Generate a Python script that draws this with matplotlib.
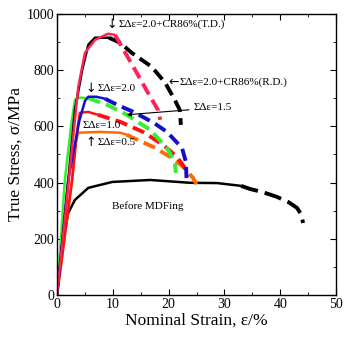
import matplotlib
matplotlib.use("Agg")
import matplotlib.pyplot as plt
from matplotlib.ticker import MultipleLocator

plt.rcParams['font.family'] = ['Liberation Serif', 'DejaVu Serif']
plt.rcParams['mathtext.fontset'] = 'stix'

# Before MDFing
before_x = [0, 0.2, 1.1, 2.0, 3.2, 5.6, 9.9, 16.7, 23.8, 28.7, 33.0]
before_y = [0, 53, 196, 292, 338, 381, 402, 409, 399, 398, 388]
before_dx = [33.0, 34.6, 37.0, 39.4, 41.5, 43.0, 43.8, 44.1]
before_dy = [388, 377, 365, 349, 330, 310, 285, 256]

# 0.5
o_x = [0, 2.7, 3.3, 3.8, 7.7, 11.3, 12.5]
o_y = [0, 409, 540, 577, 580, 577, 570]
o_dx = [12.5, 13.6, 17.2, 20.3, 22.6, 24.4, 25.3]
o_dy = [570, 559, 527, 491, 456, 416, 381]

# 1.0
r_x = [0, 2.7, 3.7, 4.1, 5.6, 7.3]
r_y = [0, 409, 600, 648, 651, 641]
r_dx = [7.3, 11.3, 15.4, 19.0, 21.5, 22.9, 23.3]
r_dy = [641, 616, 580, 534, 491, 452, 420]

# 1.5
g_x = [0, 1.4, 2.5, 3.2, 4.1, 5.6]
g_y = [0, 409, 600, 694, 702, 700]
g_dx = [5.6, 9.0, 12.5, 14.5, 16.7, 19.7, 21.1, 21.3]
g_dy = [700, 676, 641, 615, 587, 523, 473, 434]

# 2.0
b_x = [0, 2.0, 4.0, 5.0, 5.6, 7.0, 8.6]
b_y = [0, 409, 620, 690, 705, 705, 698]
b_dx = [8.6, 10.8, 13.6, 15.4, 17.5, 19.7, 22.4, 23.1, 23.2]
b_dy = [698, 676, 652, 633, 610, 580, 523, 473, 416]

# 2.0 + CR86% (R.D.)
k_x = [0, 1.5, 3.2, 4.5, 5.6, 6.8, 9.3]
k_y = [0, 300, 658, 800, 890, 915, 915]
k_dx = [9.3, 11.3, 13.4, 15.2, 17.0, 19.4, 21.1, 22.0, 22.2]
k_dy = [915, 897, 861, 836, 811, 754, 694, 658, 605]

# 2.0 + CR86% (T.D.)
t_x = [0, 1.5, 3.8, 5.0, 6.8, 9.1, 10.4]
t_y = [0, 290, 740, 861, 907, 929, 925]
t_dx = [10.4, 11.6, 14.0, 16.3, 18.1, 18.5]
t_dy = [925, 883, 800, 719, 658, 623]

fig = plt.figure(figsize=(3.5, 3.45), dpi=100)
ax = fig.add_axes([0.163, 0.145, 0.797, 0.815])

curvas = [
    (before_x, before_y, before_dx, before_dy, 'black', (4.5, 1.8)),
    (o_x, o_y, o_dx, o_dy, '#ff6a00', (3.2, 1.6)),
    (r_x, r_y, r_dx, r_dy, '#ff1010', (3.2, 1.6)),
    (g_x, g_y, g_dx, g_dy, '#33ee33', (3.2, 1.6)),
    (b_x, b_y, b_dx, b_dy, '#1010cc', (3.2, 1.6)),
    (k_x, k_y, k_dx, k_dy, 'black', (3.2, 1.6)),
    (t_x, t_y, t_dx, t_dy, '#ff2255', (3.2, 1.6)),
]
for x, y, dx, dy, c, d in curvas:
    ax.plot(x, y, color=c, lw=1.8, solid_capstyle='butt')
    ax.plot(dx, dy, color=c, lw=2.8, dashes=d)

fs = 8
flecha = dict(fontsize=9, family='DejaVu Sans', va='center', ha='center')
# flechas
ax.text(9.8, 962, '↓', **flecha)
ax.text(6.1, 733, '↓', **flecha)
ax.text(6.1, 541, '↑', **flecha)
ax.text(20.9, 758, '←', **flecha)

ax.text(11.0, 962, 'ΣΔε=2.0+CR86%(T.D.)', fontsize=fs, va='center')
ax.text(22.0, 758, 'ΣΔε=2.0+CR86%(R.D.)', fontsize=fs, va='center')
ax.annotate('ΣΔε=1.5', xy=(12.5, 641), xytext=(24.4, 665), fontsize=fs, va='center',
            arrowprops=dict(arrowstyle='-|>', lw=0.8, color='black', mutation_scale=6,
                            shrinkA=1, shrinkB=0))
ax.text(7.3, 733, 'ΣΔε=2.0', fontsize=fs, va='center')
ax.text(4.5, 601, 'ΣΔε=1.0', fontsize=fs, va='center')
ax.text(7.3, 541, 'ΣΔε=0.5', fontsize=fs, va='center')
ax.text(9.9, 317, 'Before MDFing', fontsize=fs, va='center')

ax.set_xlim(0, 50)
ax.set_ylim(0, 1000)
ax.xaxis.set_major_locator(MultipleLocator(10))
ax.xaxis.set_minor_locator(MultipleLocator(5))
ax.yaxis.set_major_locator(MultipleLocator(200))
ax.yaxis.set_minor_locator(MultipleLocator(100))
ax.tick_params(which='both', direction='in', top=True, right=True, labelsize=10, pad=2)
ax.tick_params(which='major', length=4)
ax.tick_params(which='minor', length=2.5)
for s in ax.spines.values():
    s.set_linewidth(1.0)

ax.set_xlabel('Nominal Strain, ε/%', fontsize=12.5, labelpad=1)
ax.set_ylabel('True Stress, σ/MPa', fontsize=12.5, labelpad=2)

fig.savefig('out.png', dpi=100)
